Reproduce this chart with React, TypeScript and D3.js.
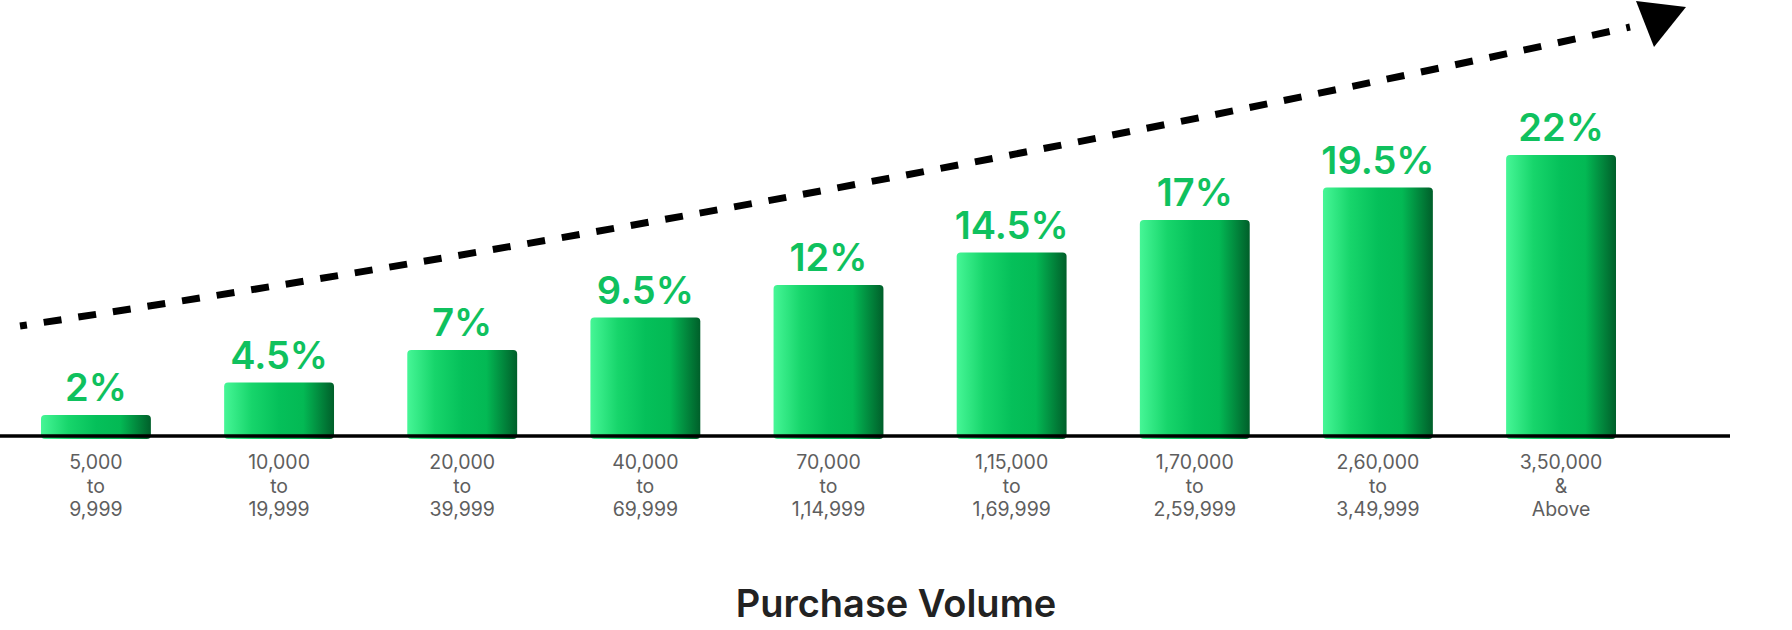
import * as d3 from "d3";

const width = 1792;
const height = 630;

// chart data
const categories = [
  ["5,000", "to", "9,999"],
  ["10,000", "to", "19,999"],
  ["20,000", "to", "39,999"],
  ["40,000", "to", "69,999"],
  ["70,000", "to", "1,14,999"],
  ["1,15,000", "to", "1,69,999"],
  ["1,70,000", "to", "2,59,999"],
  ["2,60,000", "to", "3,49,999"],
  ["3,50,000", "&", "Above"],
];
const shares = [2, 4.5, 7, 9.5, 12, 14.5, 17, 19.5, 22];
const valueLabels = ["2%", "4.5%", "7%", "9.5%", "12%", "14.5%", "17%", "19.5%", "22%"];
const axisTitle = "Purchase Volume";

// trend arrow annotation (start, control, end, head)
const trendCurve: [number, number][] = [[20, 326], [824, 204], [1630, 27]];
const arrowHead: [number, number][] = [[1636, 1], [1686, 7], [1654, 47]];

const BASELINE = 436;
const FONT = "Inter, 'Noto Sans', sans-serif";

function App() {
  const xScale = d3
    .scaleBand<number>()
    .domain(d3.range(shares.length))
    .range([41, 1616])
    .paddingInner(0.4)
    .paddingOuter(0);

  const yScale = d3.scaleLinear().domain([0, 22]).range([441, 155]);
  const cx = (i: number) => (xScale(i) ?? 0) + xScale.bandwidth() / 2;

  const trendPath = d3.path();
  trendPath.moveTo(trendCurve[0][0], trendCurve[0][1]);
  trendPath.quadraticCurveTo(trendCurve[1][0], trendCurve[1][1], trendCurve[2][0], trendCurve[2][1]);

  const headPath = d3.line()(arrowHead) + "Z";

  return (
    <svg
      width={width}
      height={height}
      style={{ position: "absolute", left: 0, top: 0, display: "block", background: "#fff" }}
    >
      <defs>
        <linearGradient id="barFill" x1="0" x2="1" y1="0" y2="0">
          <stop offset="0%" stopColor="#46f696" />
          <stop offset="25%" stopColor="#17d56b" />
          <stop offset="50%" stopColor="#05c05a" />
          <stop offset="72%" stopColor="#03b954" />
          <stop offset="100%" stopColor="#005f2a" />
        </linearGradient>
      </defs>

      {/* trend arrow */}
      <path
        d={trendPath.toString()}
        fill="none"
        stroke="#000"
        strokeWidth={7}
        strokeDasharray="18 17"
        strokeDashoffset={11}
      />
      <path d={headPath} fill="#000" />

      {/* bars */}
      {shares.map((v, i) => (
        <rect
          key={i}
          x={xScale(i)}
          y={yScale(v)}
          width={xScale.bandwidth()}
          height={439 - yScale(v)}
          rx={4}
          fill="url(#barFill)"
        />
      ))}

      {/* value labels */}
      {shares.map((v, i) => (
        <text
          key={i}
          x={cx(i)}
          y={yScale(v) - 14}
          textAnchor="middle"
          fontFamily={FONT}
          fontWeight={600}
          fontSize={38}
          fill="#0fc15e"
        >
          {valueLabels[i]}
        </text>
      ))}

      {/* baseline */}
      <line x1={0} x2={1730} y1={BASELINE} y2={BASELINE} stroke="#000" strokeWidth={3.5} />

      {/* category labels */}
      {categories.map((lines, i) => (
        <text
          key={i}
          x={cx(i)}
          y={469}
          textAnchor="middle"
          fontFamily={FONT}
          fontSize={19.5}
          fill="#5e5e5e"
        >
          {lines.map((t, j) => (
            <tspan key={j} x={cx(i)} dy={j === 0 ? 0 : 23.5}>
              {t}
            </tspan>
          ))}
        </text>
      ))}

      {/* axis title */}
      <text
        x={896}
        y={617}
        textAnchor="middle"
        fontFamily={FONT}
        fontWeight={600}
        fontSize={38}
        fill="#222"
      >
        {axisTitle}
      </text>
    </svg>
  );
}

export default App;
